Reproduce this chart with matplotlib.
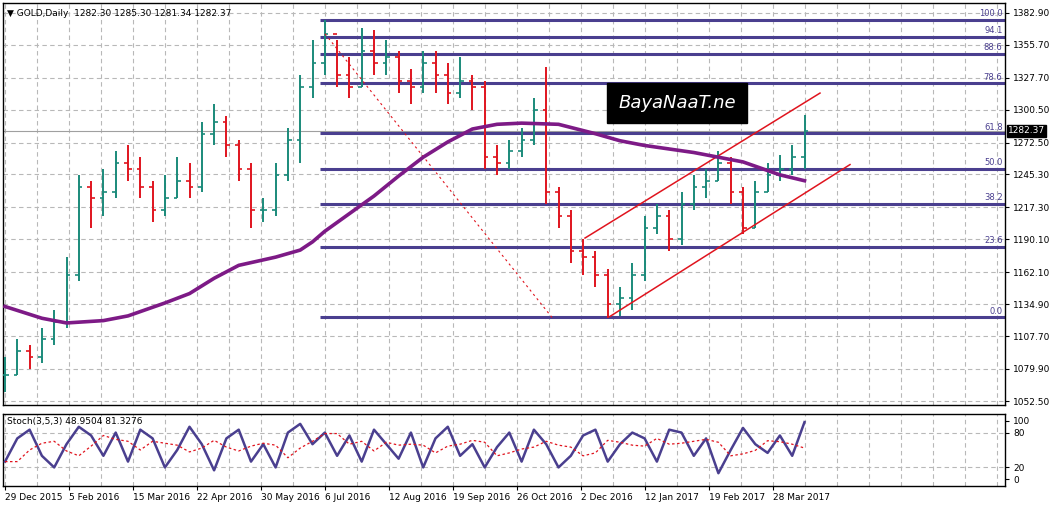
import numpy as np
import pandas as pd
import matplotlib
matplotlib.use("Agg")
import matplotlib.pyplot as plt

closes = [1075, 1095, 1090, 1105, 1120, 1160, 1235, 1225, 1230, 1255, 1250, 1235, 1215, 1225,
          1240, 1235, 1280, 1290, 1270, 1250, 1215, 1215, 1245, 1275, 1320, 1340, 1365, 1330,
          1320, 1350, 1340, 1345, 1325, 1320, 1340, 1330, 1315, 1325, 1320, 1260, 1255, 1265,
          1275, 1300, 1230, 1210, 1180, 1175, 1160, 1135, 1140, 1160, 1200, 1210, 1190, 1220,
          1235, 1240, 1255, 1230, 1200, 1230, 1245, 1250, 1260, 1282]
highs = [1090, 1105, 1100, 1115, 1130, 1175, 1245, 1240, 1250, 1265, 1270, 1260, 1240, 1245,
         1260, 1255, 1290, 1305, 1295, 1275, 1255, 1225, 1255, 1285, 1330, 1360, 1377, 1360,
         1345, 1370, 1368, 1360, 1350, 1335, 1350, 1350, 1340, 1345, 1330, 1325, 1270, 1275,
         1285, 1310, 1337, 1235, 1215, 1190, 1180, 1165, 1150, 1170, 1210, 1220, 1215, 1230,
         1245, 1250, 1265, 1260, 1235, 1240, 1255, 1262, 1270, 1296]
lows = [1060, 1075, 1080, 1085, 1100, 1115, 1155, 1200, 1210, 1225, 1240, 1225, 1205, 1210,
        1225, 1225, 1230, 1270, 1260, 1240, 1200, 1205, 1210, 1240, 1255, 1310, 1330, 1320,
        1310, 1320, 1330, 1330, 1315, 1305, 1315, 1315, 1305, 1310, 1300, 1250, 1245, 1250,
        1260, 1270, 1220, 1200, 1170, 1160, 1150, 1123, 1125, 1130, 1155, 1195, 1180, 1185,
        1215, 1225, 1240, 1220, 1195, 1200, 1230, 1240, 1245, 1250]

ma_weeks = [0, 3, 5, 8, 10, 13, 15, 17, 19, 22, 24, 25, 26, 28, 30, 32, 34, 36, 38, 40, 42, 45,
            48, 50, 52, 56, 60, 63, 65]
ma_vals = [1133, 1123, 1119, 1121, 1125, 1136, 1144, 1157, 1168, 1175, 1181, 1188, 1197, 1212,
           1227, 1244, 1260, 1273, 1284, 1288, 1289, 1288, 1280, 1274, 1270, 1264, 1256, 1245,
           1240]

stoch = [30, 70, 85, 40, 20, 60, 90, 75, 40, 80, 30, 85, 70, 20, 50, 90, 60, 15, 70, 85, 30, 60,
         20, 80, 95, 60, 80, 40, 75, 30, 85, 60, 35, 80, 20, 70, 90, 40, 60, 20, 55, 80, 30, 85,
         60, 20, 40, 75, 85, 30, 60, 80, 70, 30, 85, 80, 40, 70, 10, 50, 88, 60, 45, 75, 40, 98]

price_ticks = [1382.90, 1355.70, 1327.70, 1300.50, 1272.50, 1245.30, 1217.30, 1190.10,
               1162.10, 1134.90, 1107.70, 1079.90, 1052.50]
date_labels = ["29 Dec 2015", "5 Feb 2016", "15 Mar 2016", "22 Apr 2016", "30 May 2016",
               "6 Jul 2016", "12 Aug 2016", "19 Sep 2016", "26 Oct 2016", "2 Dec 2016",
               "12 Jan 2017", "19 Feb 2017", "28 Mar 2017"]
fib_levels = [0.0, 23.6, 38.2, 50.0, 61.8, 78.6, 88.6, 94.1, 100.0]
fib_low, fib_high = 1123.7, 1377.0
last_price = 1282.37

W, H = 1053, 507
fig = plt.figure(figsize=(W / 100, H / 100), dpi=100)
ax = fig.add_axes([3 / W, (H - 405) / H, 1002 / W, 402 / H])
sx = fig.add_axes([3 / W, (H - 486) / H, 1002 / W, 72 / H], sharex=ax)

px = 12.3  # pixels per week
xl = (-2 / px, 1000 / px)
grid_kw = dict(color="#b8b8b8", ls=(0, (4, 3)), lw=0.8, zorder=0)
vgrid = [k * 32 / px for k in range(32)]

n = len(closes)
x = np.arange(n)
opens = [closes[0]] + closes[:-1]
for i in range(n):
    c = "#e0141e" if closes[i] < opens[i] else "#1a8a7a"
    ax.vlines(x[i], lows[i], highs[i], color=c, lw=1.4, zorder=3)
    ax.hlines(opens[i], x[i] - 0.3, x[i], color=c, lw=1.2, zorder=3)
    ax.hlines(closes[i], x[i], x[i] + 0.3, color=c, lw=1.2, zorder=3)

ax.plot(ma_weeks, ma_vals, color="#7d1a86", lw=2.6, zorder=4)

# fibo lines
x0 = (320 - 5) / px
for lv in fib_levels:
    p = fib_low + lv / 100 * (fib_high - fib_low)
    ax.hlines(p, x0, xl[1], color="#4a3f8f", lw=2.2, zorder=2)
    ax.text(xl[1] - 0.2, p + 1.5, f"{lv:.1f}", color="#4a3f8f", fontsize=6,
            ha="right", va="bottom")
ax.plot([(325 - 5) / px, (552 - 5) / px], [1365, fib_low], color="#e0141e", lw=0.8,
        ls=(0, (2, 3)), zorder=3)

# channel
def pr(y):
    return 1382.9 - (y - 13) / 1.2
ax.plot([(610 - 5) / px, (850 - 5) / px], [pr(323), pr(168)], color="#e0141e", lw=1.1, zorder=3)
ax.plot([(585 - 5) / px, (820 - 5) / px], [pr(243), pr(95)], color="#e0141e", lw=1.1, zorder=3)

ax.axhline(last_price, color="#a0a0a0", lw=0.8, zorder=1)

for t in price_ticks:
    ax.axhline(t, **grid_kw)
for v in vgrid:
    ax.axvline(v, **grid_kw)
ax.set_xlim(*xl)
ax.set_ylim(1052.5 - 3.3, 1391.2)
ax.yaxis.tick_right()
ax.set_yticks(price_ticks)
ax.set_yticklabels([f"{t:.2f}" for t in price_ticks], fontsize=6.5)
ax.tick_params(axis="y", length=3, pad=3)
ax.tick_params(axis="x", length=0, labelbottom=False)
ax.text(1.003, last_price, f"{last_price:.2f}", transform=ax.get_yaxis_transform(),
        fontsize=6.5, color="white", va="center", ha="left",
        bbox=dict(boxstyle="square,pad=0.15", fc="black", ec="black"))
ax.text(0.004, 0.985, "\u25bc GOLD,Daily  1282.30 1285.30 1281.34 1282.37", transform=ax.transAxes,
        fontsize=6.5, va="top", ha="left")

# watermark
ax.text((677 - 5) / px, pr(105), "BayaNaaT.ne", color="white", fontsize=13, style="italic",
        ha="center", va="center", zorder=6,
        bbox=dict(boxstyle="square,pad=0.6", fc="black", ec="black"))

# stochastic
sig = pd.Series(stoch).rolling(3, min_periods=1).mean().shift(1).bfill()
sx.plot(x, stoch, color="#4a3f8f", lw=1.8, zorder=3)
sx.plot(x, sig, color="#e0141e", lw=0.9, ls=(0, (2, 2)), zorder=4)
for t in (20, 80):
    sx.axhline(t, **grid_kw)
for v in vgrid:
    sx.axvline(v, **grid_kw)
sx.set_ylim(-12, 112)
sx.yaxis.tick_right()
sx.set_yticks([0, 20, 80, 100])
sx.set_yticklabels(["0", "20", "80", "100"], fontsize=6.5)
sx.tick_params(axis="y", length=3, pad=3)
sx.set_xticks([k * 64 / px for k in range(len(date_labels))])
sx.set_xticklabels(date_labels, fontsize=6.5, ha="left")
sx.tick_params(axis="x", length=3, pad=2)
sx.text(0.004, 0.96, "Stoch(3,5,3) 48.9504 81.3276", transform=sx.transAxes, fontsize=6.5,
        va="top", ha="left")
for a in (ax, sx):
    for s in a.spines.values():
        s.set_linewidth(1.0)

fig.savefig("out.png", dpi=100)
